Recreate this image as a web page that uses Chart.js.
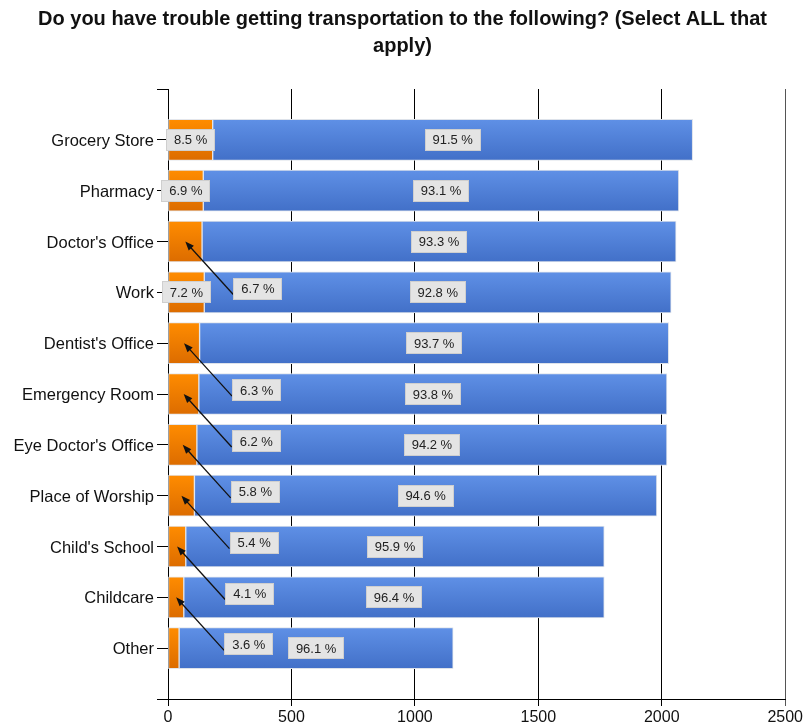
<!DOCTYPE html>
<html>
<head>
<meta charset="utf-8">
<script src="https://cdn.jsdelivr.net/npm/chart.js@4.4.1/dist/chart.umd.min.js"></script>
<style>
  html, body { margin: 0; padding: 0; background: #fff; }
  #wrap { width: 805px; height: 725px; position: relative; }
</style>
</head>
<body>
<div id="wrap"><canvas id="chart" width="805" height="725"></canvas></div>
<script>
const CATEGORIES = [
  'Grocery Store', 'Pharmacy', "Doctor's Office", 'Work', "Dentist's Office",
  'Emergency Room', "Eye Doctor's Office", 'Place of Worship', "Child's School",
  'Childcare', 'Other'
];
const TROUBLE    = [181, 143, 138, 147, 128, 125, 117, 107, 72, 64, 45];
const NO_TROUBLE = [1944, 1926, 1920, 1891, 1900, 1896, 1904, 1873, 1695, 1703, 1110];
const X_TICKS = [0, 500, 1000, 1500, 2000, 2500];

// orange labels that get pushed down-right with an arrow, and the one that is dropped
const CALLOUTS = [2, 4, 5, 6, 7, 8, 9];
const HIDDEN = [10];

const FONT = 'Arial, "Liberation Sans", sans-serif';
const BAR_H = 41;

// empty slot above and below so the rows sit a full step inside the axis
const pad = arr => [null, ...arr, null];
const LABELS = ['', ...CATEGORIES, ''];

function barFill(top, bottom) {
  return ctx => {
    const y = ctx.chart.scales.y;
    if (!y || ctx.dataIndex == null) return bottom;
    const cy = y.getPixelForValue(ctx.dataIndex);
    if (!isFinite(cy)) return bottom;
    const g = ctx.chart.ctx.createLinearGradient(0, cy - BAR_H / 2, 0, cy + BAR_H / 2);
    g.addColorStop(0, top);
    g.addColorStop(1, bottom);
    return g;
  };
}

function pct(i, v) {
  return (v / (TROUBLE[i] + NO_TROUBLE[i]) * 100).toFixed(1) + ' %';
}

function drawBox(ctx, text, cx, cy) {
  ctx.font = '13px ' + FONT;
  const w = Math.round(ctx.measureText(text).width + 16);
  const h = 22;
  const x = Math.round(cx - w / 2), y = Math.round(cy - h / 2);
  ctx.fillStyle = '#e4e4e4';
  ctx.fillRect(x, y, w, h);
  ctx.strokeStyle = '#cfcfcf';
  ctx.lineWidth = 1;
  ctx.strokeRect(x + 0.5, y + 0.5, w - 1, h - 1);
  ctx.fillStyle = '#222';
  ctx.textAlign = 'center';
  ctx.textBaseline = 'middle';
  ctx.fillText(text, cx, cy + 1);
  return { x, y, w, h };
}

function arrow(ctx, x1, y1, x2, y2) {
  const a = Math.atan2(y2 - y1, x2 - x1);
  ctx.strokeStyle = '#111';
  ctx.fillStyle = '#111';
  ctx.lineWidth = 1.3;
  ctx.beginPath();
  ctx.moveTo(x1, y1);
  ctx.lineTo(x2 - 6 * Math.cos(a), y2 - 6 * Math.sin(a));
  ctx.stroke();
  ctx.beginPath();
  ctx.moveTo(x2, y2);
  ctx.lineTo(x2 - 9 * Math.cos(a) + 3.5 * Math.sin(a), y2 - 9 * Math.sin(a) - 3.5 * Math.cos(a));
  ctx.lineTo(x2 - 9 * Math.cos(a) - 3.5 * Math.sin(a), y2 - 9 * Math.sin(a) + 3.5 * Math.cos(a));
  ctx.closePath();
  ctx.fill();
}

const pctLabels = {
  id: 'pctLabels',
  afterDatasetsDraw(chart) {
    const ctx = chart.ctx;
    const orange = chart.getDatasetMeta(0).data;
    const blue = chart.getDatasetMeta(1).data;
    ctx.save();
    CATEGORIES.forEach((_, i) => {
      const b = blue[i + 1];
      drawBox(ctx, pct(i, NO_TROUBLE[i]), (b.x + b.base) / 2, b.y);
    });
    CATEGORIES.forEach((_, i) => {
      if (HIDDEN.includes(i)) return;
      const o = orange[i + 1];
      const ox = (o.x + o.base) / 2;
      if (CALLOUTS.includes(i)) {
        ctx.font = '13px ' + FONT;
        const w = ctx.measureText(pct(i, TROUBLE[i])).width + 16;
        const left = ox + 48, cy = o.y + 47;
        arrow(ctx, left, cy + 6, ox, o.y);
        drawBox(ctx, pct(i, TROUBLE[i]), left + w / 2, cy);
      } else {
        drawBox(ctx, pct(i, TROUBLE[i]), ox, o.y);
      }
    });
    ctx.restore();
  }
};

new Chart(document.getElementById('chart'), {
  type: 'bar',
  data: {
    labels: LABELS,
    datasets: [
      {
        label: 'Yes',
        data: pad(TROUBLE),
        backgroundColor: barFill('#ff8c00', '#dc6c00'),
        borderColor: '#e3e6ec',
        borderWidth: 1,
        borderSkipped: false,
        barThickness: BAR_H
      },
      {
        label: 'No',
        data: pad(NO_TROUBLE),
        backgroundColor: barFill('#5f90e6', '#4270c8'),
        borderColor: '#dde2ea',
        borderWidth: 1,
        borderSkipped: false,
        barThickness: BAR_H
      }
    ]
  },
  options: {
    indexAxis: 'y',
    responsive: false,
    animation: false,
    events: [],
    layout: { padding: 0 },
    plugins: {
      legend: { display: false },
      tooltip: { enabled: false },
      title: {
        display: true,
        text: ['Do you have trouble getting transportation to the following? (Select ALL that', 'apply)'],
        color: '#111',
        font: { family: FONT, size: 20, weight: 'bold', lineHeight: 1.35 },
        padding: { top: 6, bottom: 29 }
      }
    },
    scales: {
      x: {
        type: 'linear',
        stacked: true,
        min: 0,
        max: 2500,
        afterBuildTicks: s => { s.ticks = X_TICKS.map(v => ({ value: v })); },
        ticks: { color: '#111', font: { family: FONT, size: 16 }, padding: 2, callback: v => String(v) },
        grid: {
          color: ctx => ctx.tick && ctx.tick.value === 2500 ? '#555' : '#000',
          lineWidth: 1,
          tickLength: 7,
          drawOnChartArea: true
        },
        border: { color: '#000', width: 1 },
        afterFit: s => { s.height = 26; }
      },
      y: {
        stacked: true,
        offset: false,
        ticks: { autoSkip: false, color: '#111', font: { family: FONT, size: 16.5 }, padding: 3, labelOffset: 1.5 },
        grid: { offset: false, drawOnChartArea: false, drawTicks: true, tickLength: 11, color: '#000' },
        border: { color: '#000', width: 1 },
        afterFit: s => { s.width = 168; }
      }
    }
  },
  plugins: [pctLabels]
});
</script>
</body>
</html>
